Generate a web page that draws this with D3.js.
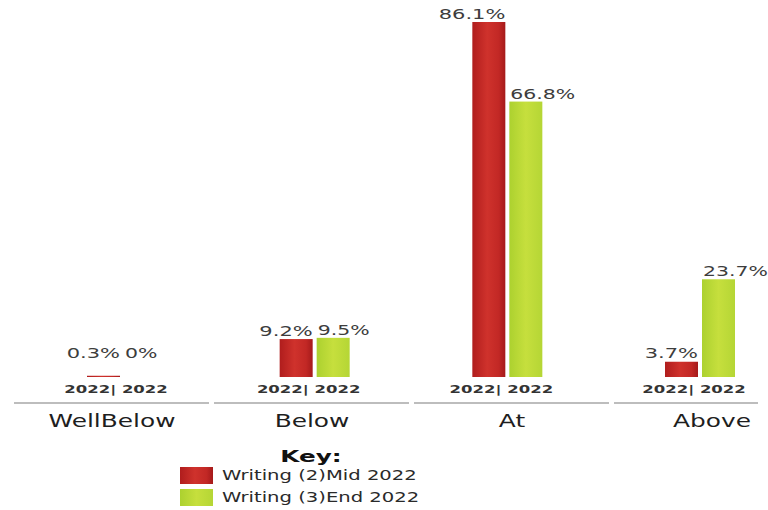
<!DOCTYPE html>
<html>
<head>
<meta charset="utf-8">
<script src="https://cdn.jsdelivr.net/npm/d3@7"></script>
<style>
  html, body { margin: 0; padding: 0; background: #fff; }
  svg { display: block; }
  text { font-family: "DejaVu Sans", Verdana, sans-serif; }
</style>
</head>
<body>
<svg id="chart" width="768" height="510"></svg>
<script>
// ---- data ----
const categories = ["WellBelow", "Below", "At", "Above"];
const seriesNames = ["Writing (2)Mid 2022", "Writing (3)End 2022"];
const midValues = [0.3, 9.2, 86.1, 3.7];
const endValues = [0, 9.5, 66.8, 23.7];
const valueLabelsMid = ["0.3%", "9.2%", "86.1%", "3.7%"];
const valueLabelsEnd = ["0%", "9.5%", "66.8%", "23.7%"];
const yearLabels = ["2022", "2022"];
const keyTitle = "Key:";

const W = 768, H = 510;
const svg = d3.select("#chart");

// gradients
const defs = svg.append("defs");
function grad(id, stops) {
  const g = defs.append("linearGradient").attr("id", id)
    .attr("x1", "0%").attr("x2", "100%").attr("y1", "0%").attr("y2", "0%");
  stops.forEach(([o, c]) => g.append("stop").attr("offset", o).attr("stop-color", c));
}
grad("redG", [["0%", "#b01d1d"], ["45%", "#cf322c"], ["80%", "#c22825"], ["100%", "#a51a1a"]]);
grad("greenG", [["0%", "#acd12f"], ["50%", "#c6df3d"], ["100%", "#b5d635"]]);
const colors = ["url(#redG)", "url(#greenG)"];
const legendColors = ["url(#redG)", "url(#greenG)"];

// scales
const xBand = d3.scaleBand().domain(categories).range([13, 813]).paddingInner(0).paddingOuter(0);
const xGroup = d3.scalePoint().domain(categories).range([122, 700]);
const y = d3.scaleLinear().domain([0, d3.max(midValues.concat(endValues))]).range([377, 22]);

const barW = 33, gap = 2;

const data = categories.map((c, i) => ({ c, mid: midValues[i], end: endValues[i], lm: valueLabelsMid[i], le: valueLabelsEnd[i] }));

function stretchedText(g, x, yy, txt, opts) {
  return g.append("text")
    .attr("transform", `translate(${x},${yy}) scale(${opts.sx},1)`)
    .attr("text-anchor", opts.anchor || "middle")
    .attr("font-size", opts.size)
    .attr("font-weight", opts.weight || "normal")
    .attr("fill", opts.fill || "#333")
    .text(txt);
}

const gBars = svg.append("g");
data.forEach(d => {
  const cx = xGroup(d.c);
  gBars.append("rect")
    .attr("x", cx - gap - barW).attr("y", y(d.mid))
    .attr("width", barW).attr("height", y(0) - y(d.mid))
    .attr("fill", colors[0]);
  gBars.append("rect")
    .attr("x", cx + gap).attr("y", y(d.end))
    .attr("width", barW).attr("height", y(0) - y(d.end))
    .attr("fill", colors[1]);
  stretchedText(gBars, cx - gap, Math.min(y(d.mid) - 3, 358), d.lm, { sx: 1.5, size: 14, anchor: "end", fill: "#3d3d3d" });
  stretchedText(gBars, cx + gap + 1, Math.min(y(d.end) - 3, 358), d.le, { sx: 1.46, size: 14, anchor: "start", fill: "#3d3d3d" });
  stretchedText(gBars, cx - 6, 393, yearLabels[0] + "| " + yearLabels[1], { sx: 1.5, size: 11, weight: "bold", fill: "#333" });
});

// separator lines + category labels
const gAxis = svg.append("g");
categories.forEach(c => {
  gAxis.append("line")
    .attr("x1", xBand(c) + 1).attr("x2", Math.min(xBand(c) + xBand.bandwidth() - 4, W - 10))
    .attr("y1", 403).attr("y2", 403)
    .attr("stroke", "#bdbdbd").attr("stroke-width", 2);
  stretchedText(gAxis, xBand(c) + xBand.bandwidth() / 2 - 1, 427, c, { sx: 1.38, size: 18, fill: "#1e1e1e" });
});

// legend
const gLeg = svg.append("g");
stretchedText(gLeg, 311, 462, keyTitle, { sx: 1.65, size: 15, weight: "bold", fill: "#111" });
seriesNames.forEach((s, i) => {
  const yy = 467 + i * 22;
  gLeg.append("rect").attr("x", 180).attr("y", yy).attr("width", 33).attr("height", 17).attr("fill", legendColors[i]);
  stretchedText(gLeg, 222, yy + 13, s, { sx: 1.4, size: 14, anchor: "start", fill: "#2a2a2a" });
});
</script>
</body>
</html>
